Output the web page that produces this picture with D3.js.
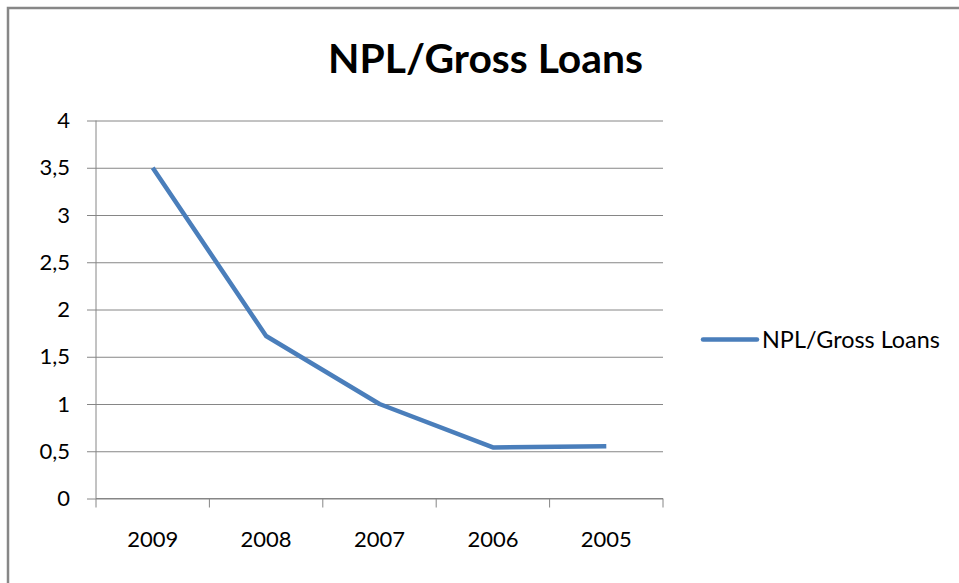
<!DOCTYPE html>
<html>
<head>
<meta charset="utf-8">
<script src="https://cdn.jsdelivr.net/npm/d3@7"></script>
<style>
  html, body { margin: 0; padding: 0; background: #fff; }
  svg { display: block; }
  text { font-family: Lato, "Open Sans", "Liberation Sans", sans-serif; fill: #000; }
</style>
</head>
<body>
<svg id="chart" width="959" height="583"></svg>
<script>
// Chart data
const title = "NPL/Gross Loans";
const seriesName = "NPL/Gross Loans";
const years = ["2009", "2008", "2007", "2006", "2005"];
const values = [3.5, 1.72, 1.0, 0.54, 0.553];
const yTicks = [0, 0.5, 1, 1.5, 2, 2.5, 3, 3.5, 4];

const W = 959, H = 583;
const plot = { left: 96, right: 663, top: 120.5, bottom: 498.5 };
const labelSize = 22;

const svg = d3.select("#chart");

// Outer chart frame
svg.append("rect")
  .attr("x", 8).attr("y", 8)
  .attr("width", W + 10).attr("height", H + 10)
  .attr("fill", "#fff")
  .attr("stroke", "#878787").attr("stroke-width", 2.5);

const x = d3.scaleBand().domain(years).range([plot.left, plot.right]).padding(0);
const y = d3.scaleLinear().domain([0, 4]).range([plot.bottom, plot.top]);

const gridColor = "#868686";

// Horizontal gridlines and y axis
const yAxis = d3.axisLeft(y)
  .tickValues(yTicks)
  .tickSize(-(plot.right - plot.left))
  .tickPadding(26)
  .tickFormat(d => String(d).replace(".", ","));

const gy = svg.append("g")
  .attr("transform", `translate(${plot.left},0)`)
  .call(yAxis);
gy.select(".domain").remove();
gy.selectAll(".tick line")
  .attr("x1", -9)
  .attr("stroke", gridColor).attr("stroke-width", 1);
gy.selectAll(".tick text")
  .style("font-size", labelSize + "px").attr("fill", "#000");

// Vertical axis line
svg.append("line")
  .attr("x1", plot.left).attr("x2", plot.left)
  .attr("y1", plot.top).attr("y2", plot.bottom)
  .attr("stroke", gridColor).attr("stroke-width", 1);

// Category axis with ticks on band boundaries
const gx = svg.append("g")
  .attr("transform", `translate(0,${plot.bottom})`)
  .call(d3.axisBottom(x).tickSize(0).tickPadding(33));
gx.select(".domain")
  .attr("d", `M${plot.left},0H${plot.right}`)
  .attr("stroke", gridColor).attr("stroke-width", 1);
gx.selectAll(".tick text").style("font-size", labelSize + "px").attr("fill", "#000");

const boundaries = years.map(d => x(d)).concat([x.range()[1]]);
gx.selectAll("line.boundary")
  .data(boundaries)
  .enter().append("line")
  .attr("class", "boundary")
  .attr("x1", d => d).attr("x2", d => d)
  .attr("y1", 0).attr("y2", 9)
  .attr("stroke", gridColor).attr("stroke-width", 1);

// Series line
const line = d3.line()
  .x((d, i) => x(years[i]) + x.bandwidth() / 2)
  .y(d => y(d));

svg.append("path")
  .datum(values)
  .attr("d", line)
  .attr("fill", "none")
  .attr("stroke", "#4a7ebb")
  .attr("stroke-width", 4.5)
  .attr("stroke-linejoin", "round");

// Title, sized to span its box
const titleText = svg.append("text")
  .attr("x", 485.5).attr("y", 73)
  .attr("text-anchor", "middle")
  .style("font-weight", "bold")
  .style("font-size", "100px")
  .text(title);
const tw = titleText.node().getComputedTextLength();
titleText.style("font-size", (100 * 315 / tw) + "px");

// Legend
const legend = svg.append("g").attr("transform", "translate(703,339.5)");
legend.append("line")
  .attr("x1", 0).attr("x2", 54)
  .attr("stroke", "#4a7ebb").attr("stroke-width", 4.5)
  .attr("stroke-linecap", "round");
const legendText = legend.append("text")
  .attr("x", 59).attr("y", 0).attr("dy", "0.36em")
  .style("font-size", "100px")
  .text(seriesName);
const lw = legendText.node().getComputedTextLength();
legendText.style("font-size", (100 * 178 / lw) + "px");
</script>
</body>
</html>
